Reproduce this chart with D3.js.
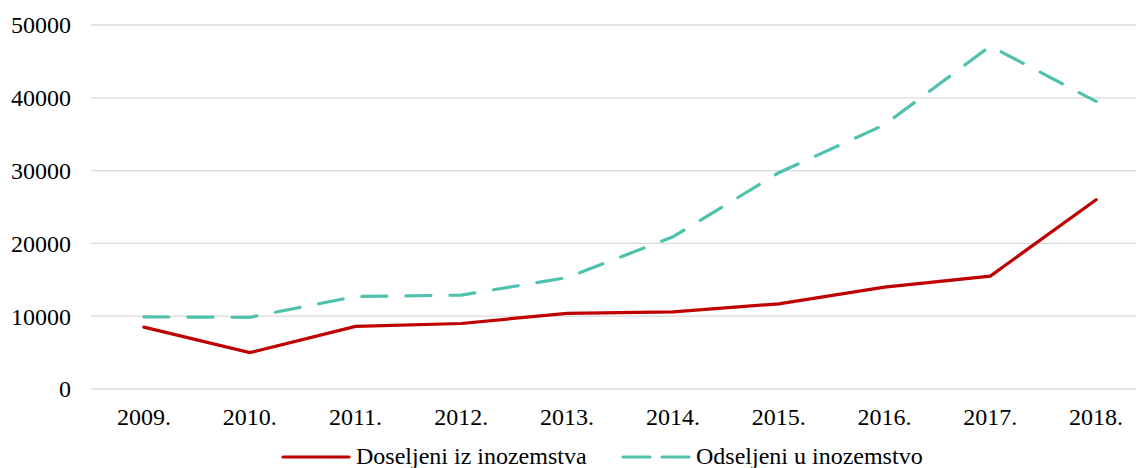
<!DOCTYPE html>
<html>
<head>
<meta charset="utf-8">
<script src="https://d3js.org/d3.v7.min.js"></script>
<style>
  body { margin: 0; background: #fff; }
  text { font-family: "Liberation Serif", "Times New Roman", serif; fill: #000; }
</style>
</head>
<body>
<svg id="chart" width="1136" height="468"></svg>
<script>
"use strict";

const years = ["2009.", "2010.", "2011.", "2012.", "2013.", "2014.", "2015.", "2016.", "2017.", "2018."];
const doseljeni = [8500, 5000, 8600, 9000, 10400, 10600, 11700, 14000, 15500, 26000];
const odseljeni = [9900, 9850, 12700, 12900, 15300, 20900, 29700, 36300, 47100, 39500];
const yTicks = [0, 10000, 20000, 30000, 40000, 50000];
const seriesNames = ["Doseljeni iz inozemstva", "Odseljeni u inozemstvo"];

const svg = d3.select("#chart");
const plotLeft = 91, plotRight = 1149, plotTop = 25, plotBottom = 389;

const x = d3.scaleBand().domain(years).range([plotLeft, plotRight]);
const y = d3.scaleLinear().domain([0, 50000]).range([plotBottom, plotTop]);

// gridlines
svg.append("g")
  .selectAll("line")
  .data(yTicks)
  .join("line")
  .attr("x1", plotLeft).attr("x2", plotRight)
  .attr("y1", d => y(d)).attr("y2", d => y(d))
  .attr("stroke", "#d9d9d9")
  .attr("stroke-width", 1.3);

// y labels
svg.append("g")
  .selectAll("text")
  .data(yTicks)
  .join("text")
  .attr("x", 71)
  .attr("y", d => y(d))
  .attr("dy", "0.35em")
  .attr("text-anchor", "end")
  .style("font-size", "24px")
  .text(d => d);

// x labels
svg.append("g")
  .selectAll("text")
  .data(years)
  .join("text")
  .attr("x", d => x(d) + x.bandwidth() / 2)
  .attr("y", 425)
  .attr("text-anchor", "middle")
  .style("font-size", "24px")
  .text(d => d);

const line = d3.line()
  .x((d, i) => x(years[i]) + x.bandwidth() / 2)
  .y(d => y(d));

svg.append("path")
  .attr("d", line(odseljeni))
  .attr("fill", "none")
  .attr("stroke", "#4fc1ad")
  .attr("stroke-width", 3.2)
  .attr("stroke-linecap", "round")
  .attr("stroke-dasharray", "25,19");

svg.append("path")
  .attr("d", line(doseljeni))
  .attr("fill", "none")
  .attr("stroke", "#c00000")
  .attr("stroke-width", 3.2)
  .attr("stroke-linecap", "round");

// legend
const legend = svg.append("g");
const legendItems = [
  { name: seriesNames[0], color: "#c00000", dash: null, x: 283 },
  { name: seriesNames[1], color: "#4fc1ad", dash: "27,12", x: 623 }
];
legendItems.forEach(it => {
  legend.append("line")
    .attr("x1", it.x).attr("x2", it.x + 66)
    .attr("y1", 457).attr("y2", 457)
    .attr("stroke", it.color)
    .attr("stroke-width", 3.2)
    .attr("stroke-linecap", "round")
    .attr("stroke-dasharray", it.dash);
  legend.append("text")
    .attr("x", it.x + 73)
    .attr("y", 464)
    .style("font-size", "24px")
    .text(it.name);
});
</script>
</body>
</html>
